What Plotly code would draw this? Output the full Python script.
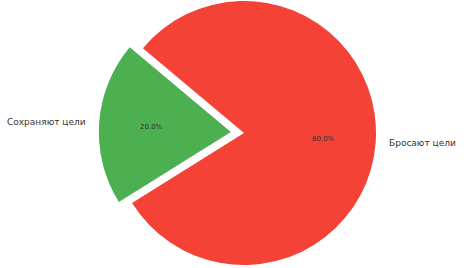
import math
import plotly.graph_objects as go

labels = ["Сохраняют цели", "Бросают цели"]
values = [20, 80]
colors = ["#4CAF50", "#F44336"]
explode = [0.1, 0.0]
start_angle = 140  # degrees, counterclockwise from 3 o'clock

W, H = 467, 268
cx, cy, r = 244.0, 133.0, 132.0  # pie centre/radius in pixels

def px_to_paper(x, y):
    return x / W, 1 - y / H

total = sum(values)
# plotly (counterclockwise) puts the first slice ending at `rotation` (clockwise from 12 o'clock)
rotation = 90 - start_angle - 360 * values[0] / total

fig = go.Figure()
ann = []
acc = 0
for i, (lab, v, col, ex) in enumerate(zip(labels, values, colors, explode)):
    a0 = start_angle + 360 * acc / total
    a1 = start_angle + 360 * (acc + v) / total
    acc += v
    mid = math.radians((a0 + a1) / 2)
    ox = cx + ex * r * math.cos(mid)
    oy = cy - ex * r * math.sin(mid)
    x0, _ = px_to_paper(ox - r, 0)
    x1, _ = px_to_paper(ox + r, 0)
    _, y1 = px_to_paper(0, oy - r)
    _, y0 = px_to_paper(0, oy + r)
    cols = ["rgba(0,0,0,0)"] * len(values)
    cols[i] = col
    fig.add_trace(go.Pie(
        values=values, labels=labels, sort=False, direction="counterclockwise",
        rotation=rotation, marker=dict(colors=cols, line=dict(width=0)),
        textinfo="none", hoverinfo="skip", showlegend=False,
        domain=dict(x=[max(0, x0), min(1, x1)], y=[max(0, y0), min(1, y1)]),
    ))
    # label at 1.1 r
    lx = ox + 1.1 * r * math.cos(mid)
    ly = oy - 1.1 * r * math.sin(mid)
    px_, py_ = px_to_paper(lx, ly)
    ann.append(dict(x=px_, y=py_, xref="paper", yref="paper", text=lab, showarrow=False,
                    xanchor="right" if math.cos(mid) < 0 else "left", yanchor="middle",
                    borderpad=0, borderwidth=0,
                    font=dict(family="DejaVu Sans", size=9, color="#333333")))
    # percent at 0.6 r
    tx = ox + 0.6 * r * math.cos(mid)
    ty = oy - 0.6 * r * math.sin(mid)
    px_, py_ = px_to_paper(tx, ty)
    ann.append(dict(x=px_, y=py_, xref="paper", yref="paper", text=f"{100*v/total:.1f}%",
                    showarrow=False, xanchor="center", yanchor="middle",
                    borderpad=0, borderwidth=0,
                    font=dict(family="DejaVu Sans", size=7, color="#333333")))

fig.update_layout(width=W, height=H, margin=dict(l=0, r=0, t=0, b=0),
                  paper_bgcolor="white", plot_bgcolor="white", annotations=ann)
fig.write_html("out.html")
